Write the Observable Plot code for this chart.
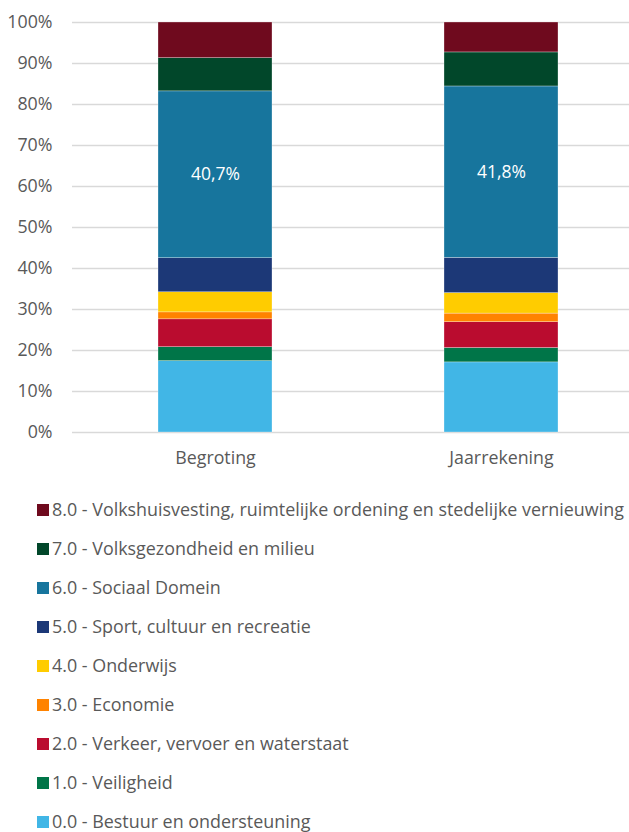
<!DOCTYPE html>
<html>
<head>
<meta charset="utf-8">
<script src="https://cdn.jsdelivr.net/npm/d3@7"></script>
<script src="https://cdn.jsdelivr.net/npm/@observablehq/plot@0.6"></script>
<style>
  html, body { margin: 0; padding: 0; background: #fff; }
  #wrap { width: 629px; height: 832px; overflow: hidden; position: relative; font-family: "Open Sans", "Noto Sans", sans-serif; }
  #legend { position: absolute; left: 37px; top: 489.5px; width: 700px; }
  .item { height: 39.06px; display: flex; align-items: center; white-space: nowrap; color: #595959; font-size: 17.9px; }
  .sw { width: 12px; height: 12px; margin-right: 3px; flex: none; position: relative; top: 1px; }
</style>
</head>
<body>
<div id="wrap">
  <div id="chart"></div>
  <div id="legend"></div>
</div>
<script>
const groups = ["Begroting", "Jaarrekening"];
const categories = [
  "0.0 - Bestuur en ondersteuning",
  "1.0 - Veiligheid",
  "2.0 - Verkeer, vervoer en waterstaat",
  "3.0 - Economie",
  "4.0 - Onderwijs",
  "5.0 - Sport, cultuur en recreatie",
  "6.0 - Sociaal Domein",
  "7.0 - Volksgezondheid en milieu",
  "8.0 - Volkshuisvesting, ruimtelijke ordening en stedelijke vernieuwing"
];
const colors = ["#41B6E6", "#007548", "#BA0C2F", "#FF8300", "#FFCC00", "#1C3877", "#17759D", "#01472A", "#6F0A1E"];
const begroting    = [17.4, 3.4, 6.8, 1.7, 4.9, 8.3, 40.7, 8.1, 8.7];
const jaarrekening = [17.1, 3.5, 6.3, 2.1, 5.0, 8.6, 41.8, 8.3, 7.3];
const labelledCategory = "6.0 - Sociaal Domein";
const yTicks = [0, 10, 20, 30, 40, 50, 60, 70, 80, 90, 100];

const series = [begroting, jaarrekening];
const data = [];
groups.forEach((g, gi) => {
  categories.forEach((c, ci) => data.push({group: g, cat: c, value: series[gi][ci]}));
});

const fmt = v => v.toFixed(1).replace(".", ",") + "%";

const chart = Plot.plot({
  width: 629,
  height: 480,
  marginLeft: 72,
  marginRight: 0,
  marginTop: 22,
  marginBottom: 48,
  style: {fontFamily: "'Open Sans', 'Noto Sans', sans-serif", fontSize: "17.5px", color: "#595959", background: "white"},
  x: {domain: groups, range: [72, 645], paddingInner: 0.6, paddingOuter: 0.3, label: null},
  y: {domain: [0, 100], label: null},
  color: {domain: categories, range: colors},
  marks: [
    Plot.ruleY(yTicks, {stroke: "#d9d9d9", strokeWidth: 1.3}),
    Plot.barY(data, Plot.stackY({x: "group", y: "value", z: "cat", fill: "cat", stroke: "white", strokeWidth: 0.5, strokeOpacity: 0.6})),
    Plot.text(data, Plot.stackY({x: "group", y: "value", z: "cat",
      text: d => d.cat === labelledCategory ? fmt(d.value) : null,
      fill: "white", fontSize: 17.5})),
    Plot.axisY({ticks: yTicks, tickFormat: d => d + "%", tickSize: 0, tickPadding: 20, fontSize: 17.8, color: "#595959", label: null}),
    Plot.axisX({tickSize: 0, tickPadding: 19, fontSize: 17.8, color: "#595959", label: null})
  ]
});
document.getElementById("chart").appendChild(chart);

const legend = document.getElementById("legend");
for (let i = categories.length - 1; i >= 0; i--) {
  const item = document.createElement("div");
  item.className = "item";
  const sw = document.createElement("span");
  sw.className = "sw";
  sw.style.background = colors[i];
  const t = document.createElement("span");
  t.textContent = categories[i];
  item.appendChild(sw);
  item.appendChild(t);
  legend.appendChild(item);
}
</script>
</body>
</html>
